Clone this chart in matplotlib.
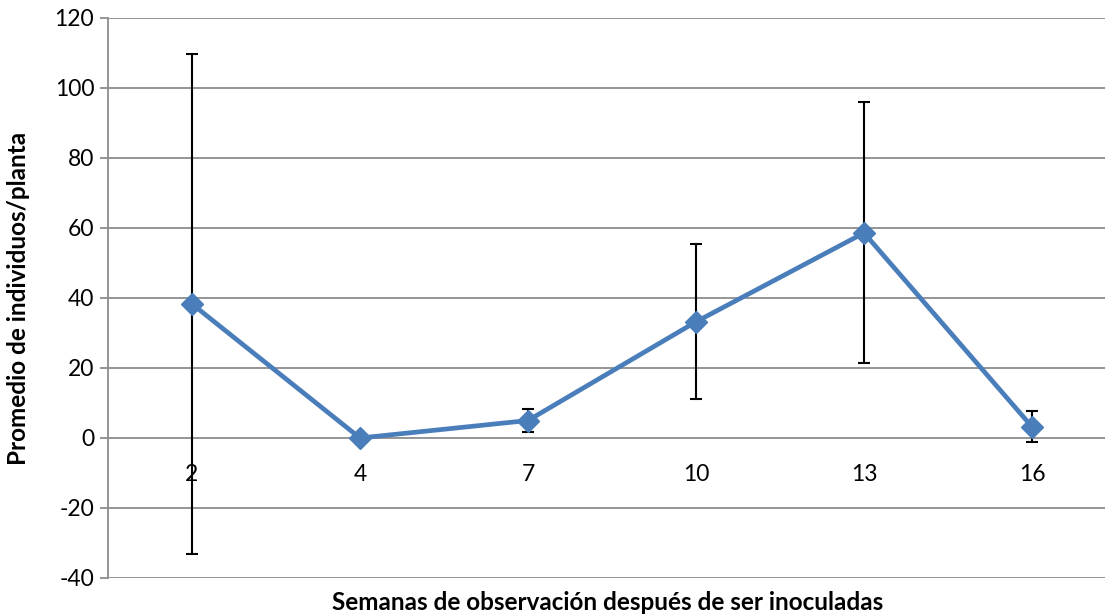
import matplotlib
matplotlib.use("Agg")
import matplotlib.pyplot as plt

semanas = ["2", "4", "7", "10", "13", "16"]
promedio = [38.3, 0.0, 5.0, 33.2, 58.6, 3.2]
error = [71.4, 0.0, 3.4, 22.1, 37.3, 4.4]
yticks = [-40, -20, 0, 20, 40, 60, 80, 100, 120]

plt.rcParams['font.family'] = ['Lato', 'DejaVu Sans']

W, H = 1105, 615
fig = plt.figure(figsize=(W / 100, H / 100), dpi=100)
left, right, top, bottom = 108, 1116, 18, 578
ax = fig.add_axes([left / W, (H - bottom) / H, (right - left) / W, (bottom - top) / H])

x = list(range(len(semanas)))
ax.errorbar(x, promedio, yerr=error, fmt='none', ecolor='black', elinewidth=1.5,
            capsize=4, capthick=1.5, zorder=3)
ax.plot(x, promedio, color='#4A7EBB', lw=3.4, marker='D', markersize=11.5,
        markerfacecolor='#4A7EBB', markeredgecolor='#4A7EBB', zorder=4)

ax.set_xlim(-0.5, len(semanas) - 0.5)
ax.set_ylim(-40, 120)
ax.spines['bottom'].set_position(('data', 0))
ax.spines['bottom'].set_visible(False)
ax.set_yticks(yticks)
ax.set_yticklabels([str(v) for v in yticks])
ax.set_xticks(x)
ax.set_xticklabels(semanas)

ax.grid(axis='y', color='#8C8C8C', lw=1.3)
ax.set_axisbelow(True)
for s in ['top', 'right']:
    ax.spines[s].set_visible(False)
ax.spines['left'].set_color('#8C8C8C')
ax.spines['left'].set_linewidth(1.3)
ax.tick_params(axis='x', length=0, pad=19, labelsize=16.5)
ax.tick_params(axis='y', length=6, color='#8C8C8C', width=1.3, pad=4, labelsize=16.5)

fig.text(608 / W, 1 - 602 / H, "Semanas de observación después de ser inoculadas",
         ha='center', va='center', fontsize=17.5, fontweight='bold')
fig.text(19 / W, 1 - 298 / H, "Promedio de individuos/planta", rotation=90,
         ha='center', va='center', fontsize=17.5, fontweight='bold')

fig.savefig("out.png", dpi=100)
